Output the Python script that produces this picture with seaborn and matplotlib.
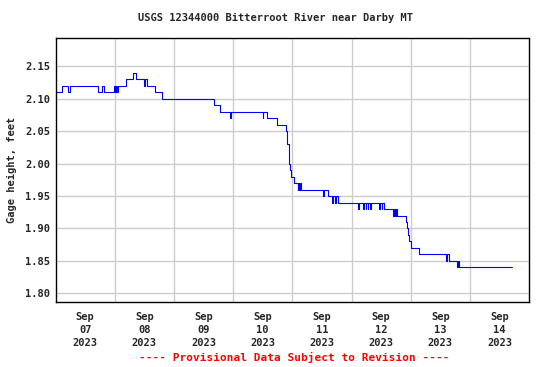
import pandas as pd
import seaborn as sns
import matplotlib.pyplot as plt
import matplotlib.dates as mdates
from matplotlib.ticker import FixedLocator, NullFormatter

# --- datos: horas desde 2023-09-07 00:00 y altura (ft), escalones ---
horas = [0, 2.75, 5.25, 5.75, 17.25, 18.75, 19.5, 23.75, 24.25, 24.5, 25.0, 25.25,
         28.5, 31.5, 32.75, 36.0, 36.25, 37.0, 40.5, 43.25, 64.25, 66.75, 70.75, 71.0,
         84.0, 84.25, 85.75, 89.75, 93.5, 94.0, 94.5, 94.75, 95.25, 95.5, 96.5,
         98.25, 98.5, 98.75, 99.0, 99.5, 108.5, 108.75, 110.5, 112.0, 112.5, 113.25,
         113.75, 114.5, 122.75, 123.0, 124.75, 125.0, 125.75, 126.0, 126.5, 126.75,
         127.5, 127.75, 131.25, 131.5, 132.25, 132.5, 133.25, 136.75, 137.25, 137.75,
         138.0, 138.5, 142.0, 142.5, 143.0, 143.5, 144.25, 147.5, 158.5, 158.75,
         159.5, 162.75, 163.0, 163.5, 185.25]
altura = [2.11, 2.12, 2.11, 2.12, 2.11, 2.12, 2.11, 2.12, 2.11, 2.12, 2.11, 2.12,
          2.13, 2.14, 2.13, 2.12, 2.13, 2.12, 2.11, 2.10, 2.09, 2.08, 2.07, 2.08,
          2.07, 2.08, 2.07, 2.06, 2.05, 2.03, 2.02, 2.00, 1.99, 1.98, 1.97,
          1.96, 1.97, 1.96, 1.97, 1.96, 1.95, 1.96, 1.95, 1.94, 1.95, 1.94,
          1.95, 1.94, 1.93, 1.94, 1.93, 1.94, 1.93, 1.94, 1.93, 1.94,
          1.93, 1.94, 1.93, 1.94, 1.93, 1.94, 1.93, 1.92, 1.93, 1.92,
          1.93, 1.92, 1.91, 1.90, 1.89, 1.88, 1.87, 1.86, 1.85, 1.86,
          1.85, 1.84, 1.85, 1.84, 1.84]
y_ticks = [1.80, 1.85, 1.90, 1.95, 2.00, 2.05, 2.10, 2.15]
dias = ["2023-09-07", "2023-09-08", "2023-09-09", "2023-09-10",
        "2023-09-11", "2023-09-12", "2023-09-13", "2023-09-14"]

TITULO = "USGS 12344000 Bitterroot River near Darby MT"
PIE = "---- Provisional Data Subject to Revision ----"

sns.set_theme(style="white")
plt.rcParams['font.family'] = ['DejaVu Sans Mono']
plt.rcParams['font.weight'] = 'bold'

inicio = pd.Timestamp("2023-09-07")
df = pd.DataFrame({
    "fecha": inicio + pd.to_timedelta(horas, unit="h"),
    "altura": altura,
})

fig = plt.figure(figsize=(5.5, 3.67), dpi=100)
ax = fig.add_axes([0.101, 0.176, 0.861, 0.721])

sns.lineplot(data=df, x="fecha", y="altura", ax=ax, color="#0000ff",
             linewidth=0.8, drawstyle="steps-post")

ax.set_xlim(inicio, inicio + pd.Timedelta(days=8))
ax.set_ylim(1.786, 2.194)

# grid a medianoche, etiquetas a mediodía
dias_ts = pd.to_datetime(dias)
ax.xaxis.set_major_locator(FixedLocator(mdates.date2num(dias_ts + pd.Timedelta(days=1))[:-1]))
ax.xaxis.set_major_formatter(NullFormatter())
ax.xaxis.set_minor_locator(FixedLocator(mdates.date2num(dias_ts + pd.Timedelta(hours=12))))
ax.set_xticklabels([d.strftime("%b\n%d\n%Y") for d in dias_ts], minor=True,
                   linespacing=1.35)
ax.tick_params(axis="x", which="both", length=0, pad=7, labelsize=7.5)

ax.set_yticks(y_ticks)
ax.set_yticklabels([f"{v:.2f}" for v in y_ticks])
ax.tick_params(axis="y", length=0, pad=4, labelsize=7.5)

ax.grid(True, which="major", color="#cccccc", linewidth=1.0)
ax.set_axisbelow(True)
for s in ax.spines.values():
    s.set_color("black")
    s.set_linewidth(1.0)

ax.set_xlabel("")
ax.set_ylabel("Gage height, feet", fontsize=7.5, fontweight="bold", labelpad=6)
fig.text(0.5, 0.95, TITULO, ha="center", va="center", fontsize=7.5, fontweight="bold")
fig.text(0.535, 0.025, PIE, ha="center", va="center", fontsize=8, fontweight="bold",
         color="#ff0000")

fig.savefig("out.png", dpi=100)
plt.close(fig)
